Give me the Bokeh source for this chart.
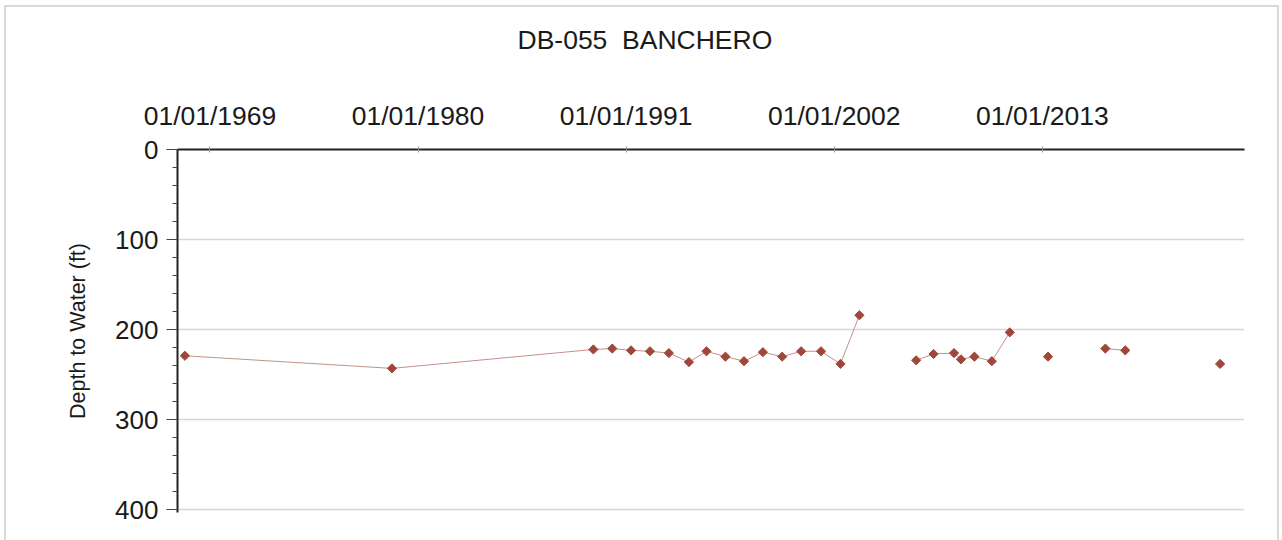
import numpy as np
import pandas as pd
from bokeh.plotting import figure
from bokeh.models import (Range1d, FixedTicker, DatetimeTickFormatter, ColumnDataSource,
                          DatetimeAxis, Title, InlineStyleSheet)
from bokeh.embed import file_html
from bokeh.resources import INLINE

# ---- data ----
title_text = "DB-055\u00a0\u00a0BANCHERO"
y_label = "Depth to Water (ft)"

dates = ["1967-09-05", "1978-08-15", "1989-04-08", "1990-04-08", "1991-04-05",
         "1992-04-05", "1993-04-05", "1994-04-27", "1995-04-01", "1996-04-01",
         "1997-03-25", "1998-03-25", "1999-04-01", "2000-04-01", "2001-04-20",
         "2002-05-01", "2003-05-01",
         "2006-05-01", "2007-04-01", "2008-05-01", "2008-09-12", "2009-05-30",
         "2010-05-01", "2011-04-12",
         "2013-04-20",
         "2016-05-01", "2017-05-20",
         "2022-05-25"]
depths = [229, 243, 222, 221, 223,
          224, 226, 236, 224, 230,
          235, 225, 230, 224, 224,
          238, 184,
          234, 227, 226, 233, 230,
          235, 203,
          230,
          221, 223,
          238]
# consecutive points sharing a run id are joined by a line
run_id = [1, 1, 1, 1, 1,
          1, 1, 1, 1, 1,
          1, 1, 1, 1, 1,
          1, 1,
          2, 2, 2, 2, 2,
          2, 2,
          3,
          4, 4,
          5]

x_tick_dates = ["1969-01-01", "1980-01-01", "1991-01-01", "2002-01-01", "2013-01-01"]
x_start, x_end = "1967-04-15", "2023-09-08"
y_major = [0, 100, 200, 300, 400]
y_minor = list(range(0, 401, 20))
y_start, y_end = 403, 0

# ---- figure ----
dt = pd.to_datetime(dates)
src = ColumnDataSource(dict(x=dt, y=depths))

p = figure(width=1280, height=540, output_backend="svg", toolbar_location=None,
           x_axis_type="datetime", x_axis_location="above",
           x_range=Range1d(pd.Timestamp(x_start), pd.Timestamp(x_end)),
           y_range=Range1d(y_start, y_end),
           min_border_left=177, min_border_right=36, min_border_top=149,
           min_border_bottom=28)

p.background_fill_color = "white"
p.border_fill_color = "white"
p.outline_line_color = None

# thin light-grey frame around the whole chart (drawn over the canvas)
p.stylesheets = [InlineStyleSheet(css="""
:host::after {
  content: "";
  position: absolute;
  left: 4px; top: 5px; right: 1px; bottom: 0px;
  border: 2px solid #d9d9d9;
  border-bottom: none;
  pointer-events: none;
  z-index: 10;
}
""")]

font = "Liberation Sans"

# top date axis
xa = p.xaxis[0]
tick_ms = [pd.Timestamp(d).value // 10**6 for d in x_tick_dates]
xa.ticker = FixedTicker(ticks=tick_ms, minor_ticks=[])
fmt = "%m/%d/%Y"
xa.formatter = DatetimeTickFormatter(years=fmt, months=fmt, days=fmt, hours=fmt,
                                     minutes=fmt, seconds=fmt, milliseconds=fmt,
                                     microseconds=fmt, minsec=fmt, hourmin=fmt)
xa.axis_line_width = 2
xa.axis_line_color = "#222222"
xa.major_tick_out = 3
xa.major_tick_in = 3
xa.major_tick_line_color = "#999999"
xa.major_label_text_font = font
xa.major_label_text_font_size = "26.5px"
xa.major_label_text_color = "#1a1a1a"
xa.major_label_standoff = 16

# blank band between the date labels and the title
spacer = DatetimeAxis(ticker=FixedTicker(ticks=[], minor_ticks=[]),
                      axis_line_color=None, major_tick_line_color=None,
                      minor_tick_line_color=None, major_tick_out=0,
                      major_tick_in=0, minor_tick_out=0, minor_tick_in=0,
                      major_label_standoff=0,
                      axis_label="\u00a0", axis_label_standoff=5,
                      axis_label_text_font=font,
                      axis_label_text_font_size="26.5px",
                      axis_label_text_font_style="normal",
                      axis_label_text_color="white")
p.add_layout(spacer, "above")

# chart title, outermost above the spacer, centred on the page
p.add_layout(Title(text=title_text, align="left", offset=340, standoff=10,
                   text_font=font, text_font_size="26.5px",
                   text_font_style="normal", text_color="#1a1a1a"), "above")

# left depth axis
ya = p.yaxis[0]
ya.ticker = FixedTicker(ticks=y_major, minor_ticks=y_minor)
ya.axis_line_width = 2
ya.axis_line_color = "#222222"
ya.major_tick_out = 11
ya.major_tick_in = 0
ya.minor_tick_out = 5
ya.minor_tick_in = 0
ya.major_tick_line_color = "#444444"
ya.minor_tick_line_color = "#444444"
ya.major_label_text_font = font
ya.major_label_text_font_size = "26px"
ya.major_label_text_color = "#1a1a1a"
ya.major_label_standoff = 8
ya.axis_label = y_label
ya.axis_label_text_font = font
ya.axis_label_text_font_size = "21.5px"
ya.axis_label_text_font_style = "normal"
ya.axis_label_text_color = "#1a1a1a"
ya.axis_label_standoff = 22

p.xgrid.visible = False
p.ygrid.grid_line_color = "#d6d6d6"
p.ygrid.grid_line_width = 1.5

# lines per run
xs, ys = [], []
for r in sorted(set(run_id)):
    idx = [i for i, v in enumerate(run_id) if v == r]
    if len(idx) > 1:
        xs.append([dt[i] for i in idx])
        ys.append([depths[i] for i in idx])
p.multi_line(xs=xs, ys=ys, line_color="#c29189", line_width=1)

p.scatter("x", "y", source=src, marker="square", angle=np.pi / 4, size=6.5,
          fill_color="#a1463a", line_color="#a1463a")

open("out.html", "w").write(file_html(p, INLINE))
